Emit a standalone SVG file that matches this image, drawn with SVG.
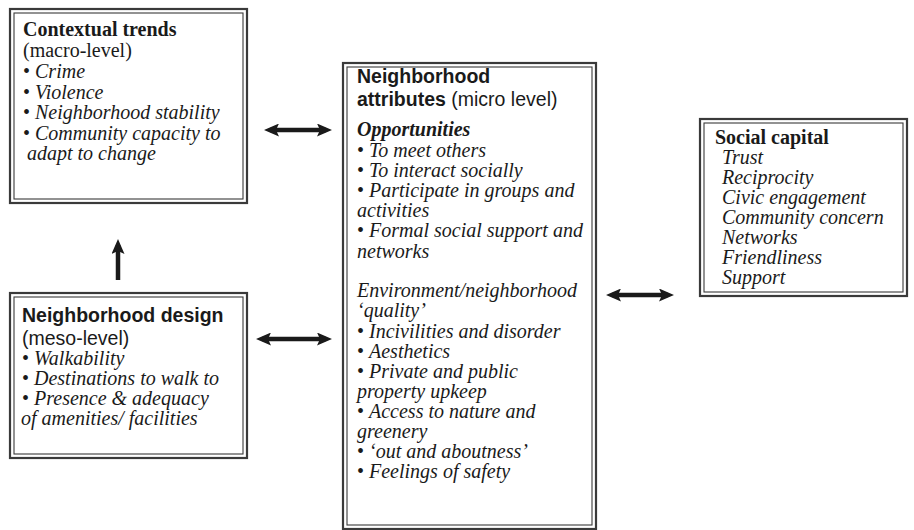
<svg xmlns="http://www.w3.org/2000/svg" width="914" height="530" viewBox="0 0 914 530">
<style>
.outer{fill:#fff;stroke:#3a3a3a;stroke-width:2.2}
.inner{fill:none;stroke:#3a3a3a;stroke-width:1.1}
text{font-family:"Liberation Serif","Times New Roman",serif;font-size:20px;fill:#1a1a1a}
.sans{font-family:"Liberation Sans",Arial,sans-serif;font-size:19.5px}
.b{font-weight:bold}
.i{font-style:italic}
.arr{stroke:#1a1a1a;stroke-width:4.5;fill:none}
</style>
<defs>
<marker id="ah" viewBox="0 0 15 13" refX="9" refY="6.5" markerWidth="15" markerHeight="13" markerUnits="userSpaceOnUse" orient="auto-start-reverse">
<path d="M0,0 L15,6.5 L0,13 L3,6.5 Z" fill="#1a1a1a"/>
</marker>
</defs>
<rect width="914" height="530" fill="#fff"/>

<g id="contextual-trends">
<rect class="outer" x="10" y="9" width="237" height="194"/>
<rect class="inner" x="14" y="13" width="229" height="186"/>
<text x="23" y="36" class="b">Contextual trends</text>
<text x="23" y="57">(macro-level)</text>
<text x="23" y="78">• <tspan class="i">Crime</tspan></text>
<text x="23" y="99">• <tspan class="i">Violence</tspan></text>
<text x="23" y="119">• <tspan class="i">Neighborhood stability</tspan></text>
<text x="23" y="140">• <tspan class="i">Community capacity to</tspan></text>
<text x="27" y="160" class="i">adapt to change</text>
</g>

<g id="neighborhood-design">
<rect class="outer" x="10" y="293" width="237" height="165"/>
<rect class="inner" x="14" y="297" width="229" height="157"/>
<text x="22" y="322" class="sans b">Neighborhood design</text>
<text x="22" y="345" class="sans">(meso-level)</text>
<text x="22" y="365">• <tspan class="i">Walkability</tspan></text>
<text x="22" y="385">• <tspan class="i">Destinations to walk to</tspan></text>
<text x="22" y="405">• <tspan class="i">Presence &amp; adequacy</tspan></text>
<text x="21" y="425" class="i">of amenities/ facilities</text>
</g>

<g id="neighborhood-attributes">
<rect class="outer" x="343" y="63" width="253" height="466"/>
<rect class="inner" x="347" y="67" width="245" height="458"/>
<text x="357" y="83" class="sans b">Neighborhood</text>
<text x="357" y="106" class="sans"><tspan class="b">attributes</tspan> (micro level)</text>
<text x="357" y="136" class="b i">Opportunities</text>
<text x="357" y="157">• <tspan class="i">To meet others</tspan></text>
<text x="357" y="177">• <tspan class="i">To interact socially</tspan></text>
<text x="357" y="197">• <tspan class="i">Participate in groups and</tspan></text>
<text x="357" y="217" class="i">activities</text>
<text x="357" y="237">• <tspan class="i">Formal social support and</tspan></text>
<text x="357" y="258" class="i">networks</text>
<text x="357" y="297" class="i">Environment/neighborhood</text>
<text x="357" y="317" class="i">‘quality’</text>
<text x="357" y="338">• <tspan class="i">Incivilities and disorder</tspan></text>
<text x="357" y="358">• <tspan class="i">Aesthetics</tspan></text>
<text x="357" y="378">• <tspan class="i">Private and public</tspan></text>
<text x="357" y="398" class="i">property upkeep</text>
<text x="357" y="418">• <tspan class="i">Access to nature and</tspan></text>
<text x="357" y="438" class="i">greenery</text>
<text x="357" y="458">• <tspan class="i">‘out and aboutness’</tspan></text>
<text x="357" y="478">• <tspan class="i">Feelings of safety</tspan></text>
</g>

<g id="social-capital">
<rect class="outer" x="700" y="119" width="207" height="177"/>
<rect class="inner" x="704" y="123" width="199" height="169"/>
<text x="715" y="144" class="b">Social capital</text>
<text x="722" y="164" class="i">Trust</text>
<text x="722" y="184" class="i">Reciprocity</text>
<text x="722" y="204" class="i">Civic engagement</text>
<text x="722" y="224" class="i">Community concern</text>
<text x="722" y="244" class="i">Networks</text>
<text x="722" y="264" class="i">Friendliness</text>
<text x="722" y="284" class="i">Support</text>
</g>

<g id="connectors">
<line class="arr" x1="270" y1="130" x2="326" y2="130" marker-start="url(#ah)" marker-end="url(#ah)"/>
<line class="arr" x1="262" y1="339" x2="326" y2="339" marker-start="url(#ah)" marker-end="url(#ah)"/>
<line class="arr" x1="612" y1="295" x2="668" y2="295" marker-start="url(#ah)" marker-end="url(#ah)"/>
<line class="arr" x1="118" y1="280" x2="118" y2="245" marker-end="url(#ah)"/>
</g>
</svg>
